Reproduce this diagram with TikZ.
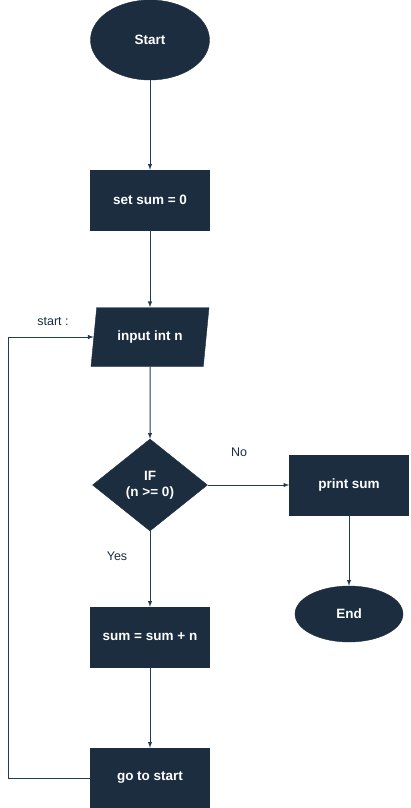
\documentclass[tikz,border=0pt]{standalone}
\usepackage{fontspec}
\setmainfont{Liberation Sans}
\usetikzlibrary{shapes.geometric}
\definecolor{navy}{RGB}{27,45,62}
\definecolor{wire}{RGB}{35,60,85}
\begin{document}
\begin{tikzpicture}[x=1pt, y=-1pt,
    block/.style={fill=navy, draw=navy, text=white, font=\fontsize{13.5}{16}\selectfont\bfseries, minimum width=119pt, minimum height=60pt, inner sep=2pt},
    term/.style={block, ellipse},
    io/.style={block, trapezium, trapezium left angle=71, trapezium right angle=109, minimum width=118pt, minimum height=59pt, trapezium stretches body},
    test/.style={block, diamond, align=center, minimum width=115pt, minimum height=92pt, inner sep=0pt},
    note/.style={text=navy, font=\fontsize{12.5}{15}\selectfont},
    arrow/.style={draw=wire, line width=1pt, -latex}]
    \useasboundingbox (0,0) rectangle (410,808);
    % main column
    \node[term, minimum height=80pt] (start) at (150,40) {Start};
    \node[block] (init) at (150,200) {set sum = 0};
    \node[io] (input) at (150,337) {input int n};
    \node[test] (check) at (150,485) {IF\\(n >= 0)};
    \node[block] (add) at (150,637) {sum = sum + n};
    \node[block] (jump) at (150,778) {go to start};
    % right column
    \node[block] (print) at (349,485) {print sum};
    \node[term, minimum width=108pt, minimum height=56pt] (stop) at (349,614) {End};
    \coordinate (loop) at (8,0);
    % labels
    \node[note] (lstart) at (53,322) {start :};
    \node[note] (lno) at (239,452) {No};
    \node[note] (lyes) at (117,556) {Yes};
    % connectors
    \draw[arrow] (start) -- (init);
    \draw[arrow] (init) -- (input);
    \draw[arrow] (input) -- (check);
    \draw[arrow] (check) -- (print);
    \draw[arrow] (check) -- (add);
    \draw[arrow] (add) -- (jump);
    \draw[arrow] (print) -- (stop);
    \draw[arrow] (jump.west) -- (jump.west -| loop) |- (input);
\end{tikzpicture}
\end{document}
